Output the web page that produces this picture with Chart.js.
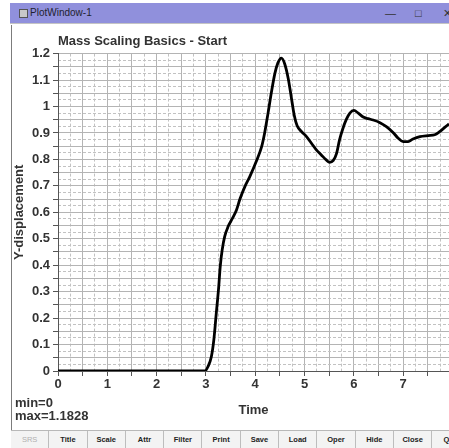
<!DOCTYPE html>
<html>
<head>
<meta charset="utf-8">
<title>PlotWindow-1</title>
<script src="https://cdn.jsdelivr.net/npm/chart.js@4.4.1/dist/chart.umd.min.js"></script>
<style>
    html, body { margin: 0; padding: 0; }
    body {
        width: 449px; height: 448px; overflow: hidden; position: relative;
        background: #fff; font-family: "Liberation Sans", Arial, sans-serif;
    }
    #titlebar {
        position: absolute; left: 10px; top: 3px; width: 460px; height: 20px;
        background: #9090dc; color: #1f1f2f; font-size: 10px; line-height: 20px;
    }
    #titlebar .icon {
        position: absolute; left: 9px; top: 6px; width: 7px; height: 7px;
        border: 1px solid #555; background: #c9c9c9;
    }
    #titlebar .name { position: absolute; left: 20px; top: 0; }
    #titlebar .ctl { position: absolute; top: 0; font-size: 11px; color: #333; }
    #sep { position: absolute; left: 10px; top: 23px; width: 460px; height: 1px; background: #c4c4c4; }
    #frame { position: absolute; left: 11px; top: 25px; width: 1px; height: 405px; background: #7c7c7c; }
    #plot { position: absolute; left: 12px; top: 25px; width: 437px; height: 405px; }
    #stats {
        position: absolute; left: 15px; top: 396px; font-size: 13px; line-height: 13px;
        font-weight: bold; color: #333;
    }
    #buttons {
        position: absolute; left: 11px; top: 430px; width: 460px; height: 18px;
        border-top: 1px solid #b8b8b8; background: #f3f3f3; display: flex;
    }
    #buttons span {
        box-sizing: border-box; width: 38.3px; flex: none; height: 18px; line-height: 17px;
        border-right: 1px solid #bdbdbd; text-align: center;
        font-size: 7.5px; font-weight: bold; color: #222;
    }
    #buttons span.off { color: #b0b0b0; font-weight: normal; }
</style>
</head>
<body>
<div id="titlebar">
    <div class="icon"></div>
    <div class="name">PlotWindow-1</div>
    <div class="ctl" style="left:375px;">&#8212;</div>
    <div class="ctl" style="left:405px;">&#9633;</div>
    <div class="ctl" style="left:433px;">&#10005;</div>
</div>
<div id="sep"></div>
<div id="frame"></div>
<div id="plot"><canvas id="chart" width="437" height="405"></canvas></div>
<div id="stats">min=0<br>max=1.1828</div>
<div id="buttons">
    <span class="off">SRS</span><span>Title</span><span>Scale</span><span>Attr</span><span>Filter</span><span>Print</span><span>Save</span><span>Load</span><span>Oper</span><span>Hide</span><span>Close</span><span>Quit</span>
</div>
<script>
// Datos
const timeValues = [0, 1, 2, 2.98, 3.04, 3.11, 3.16, 3.21, 3.26, 3.29, 3.33, 3.38, 3.45, 3.54,
    3.62, 3.69, 3.79, 3.89, 4.02, 4.13, 4.19, 4.26, 4.33, 4.40, 4.46, 4.53, 4.60, 4.67, 4.73, 4.79,
    4.85, 4.94, 5.04, 5.14, 5.24, 5.34, 5.44, 5.51, 5.58, 5.65, 5.71, 5.78, 5.85, 5.92, 6.00, 6.09,
    6.19, 6.29, 6.39, 6.53, 6.66, 6.80, 6.90, 7.00, 7.10, 7.20, 7.34, 7.51, 7.64, 7.74, 7.85, 7.93];
const dispValues = [0, 0, 0, 0, 0.016, 0.054, 0.117, 0.218, 0.319, 0.395, 0.458, 0.508, 0.546, 0.578,
    0.609, 0.650, 0.697, 0.735, 0.792, 0.848, 0.899, 0.975, 1.056, 1.126, 1.165, 1.1828, 1.16, 1.105, 1.037, 0.968,
    0.927, 0.905, 0.886, 0.861, 0.836, 0.817, 0.798, 0.789, 0.795, 0.823, 0.874, 0.918, 0.952, 0.975, 0.985, 0.975,
    0.960, 0.954, 0.949, 0.939, 0.924, 0.901, 0.880, 0.867, 0.867, 0.877, 0.886, 0.890, 0.893, 0.905, 0.922, 0.934];

// Etiquetas de ejes
const xTickLabels = ['0', '1', '2', '3', '4', '5', '6', '7'];
const yTickLabels = ['0', '0.1', '0.2', '0.3', '0.4', '0.5', '0.6', '0.7', '0.8', '0.9', '1', '1.1', '1.2'];
const xMax = 7.93;
const yMax = 1.2;

const FONT = '"Liberation Sans", Arial, sans-serif';
const TEXT = '#333';

function fmt(v) {
    return String(parseFloat(v.toFixed(3)));
}

function isMultiple(v, step) {
    const r = v / step;
    return Math.abs(r - Math.round(r)) < 1e-6;
}

const points = timeValues.map((t, i) => ({ x: t, y: dispValues[i] }));

new Chart(document.getElementById('chart'), {
    type: 'line',
    data: {
        datasets: [{
            data: points,
            xAxisID: 'x',
            yAxisID: 'y',
            borderColor: '#000',
            borderWidth: 2.8,
            pointRadius: 0,
            fill: false,
            cubicInterpolationMode: 'monotone'
        }]
    },
    options: {
        responsive: false,
        animation: false,
        layout: { padding: 0 },
        plugins: {
            legend: { display: false },
            tooltip: { enabled: false },
            title: {
                display: true,
                text: 'Mass Scaling Basics - Start',
                align: 'start',
                fullSize: false,
                color: TEXT,
                font: { family: FONT, size: 13, weight: 'bold' },
                padding: { top: 9, bottom: 4 }
            }
        },
        scales: {
            x: {
                type: 'linear', axis: 'x', position: 'bottom', min: 0, max: xMax,
                afterFit: (s) => { s.height = 59; },
                ticks: {
                    stepSize: 0.5, autoSkip: false, includeBounds: false, maxRotation: 0, padding: 1,
                    color: TEXT, font: { family: FONT, size: 13, weight: 'bold' },
                    callback: (v) => xTickLabels.includes(fmt(v)) ? fmt(v) : ''
                },
                grid: { color: '#b4b4b4', tickLength: 5, tickColor: '#555' },
                border: { color: '#555', width: 1 },
                title: {
                    display: true, text: 'Time', color: TEXT,
                    font: { family: FONT, size: 13, weight: 'bold' },
                    padding: { top: 0, bottom: 12 }
                }
            },
            x2: {
                type: 'linear', axis: 'x', position: 'bottom', min: 0, max: xMax,
                afterFit: (s) => { s.height = 0; },
                ticks: { display: false, stepSize: 0.25, autoSkip: false, includeBounds: false },
                grid: {
                    drawTicks: false,
                    color: (ctx) => isMultiple(ctx.tick.value, 0.5) ? 'rgba(0,0,0,0)' : '#c2c2c2'
                },
                border: { display: false, dash: [3, 2] }
            },
            y: {
                type: 'linear', axis: 'y', position: 'left', min: 0, max: yMax,
                afterFit: (s) => { s.width = 46; },
                ticks: {
                    stepSize: 0.05, autoSkip: false, padding: 3,
                    color: TEXT, font: { family: FONT, size: 13, weight: 'bold' },
                    callback: (v) => yTickLabels.includes(fmt(v)) ? fmt(v) : ''
                },
                grid: { color: '#b4b4b4', tickLength: 5, tickColor: '#555' },
                border: { color: '#555', width: 1 },
                title: {
                    display: true, text: 'Y-displacement', color: TEXT,
                    font: { family: FONT, size: 13, weight: 'bold' },
                    padding: 0
                }
            },
            y2: {
                type: 'linear', axis: 'y', position: 'left', min: 0, max: yMax,
                afterFit: (s) => { s.width = 0; },
                ticks: { display: false, stepSize: 0.025, autoSkip: false },
                grid: {
                    drawTicks: false,
                    color: (ctx) => isMultiple(ctx.tick.value, 0.05) ? 'rgba(0,0,0,0)' : '#c2c2c2'
                },
                border: { display: false, dash: [3, 2] }
            }
        }
    }
});
</script>
</body>
</html>
